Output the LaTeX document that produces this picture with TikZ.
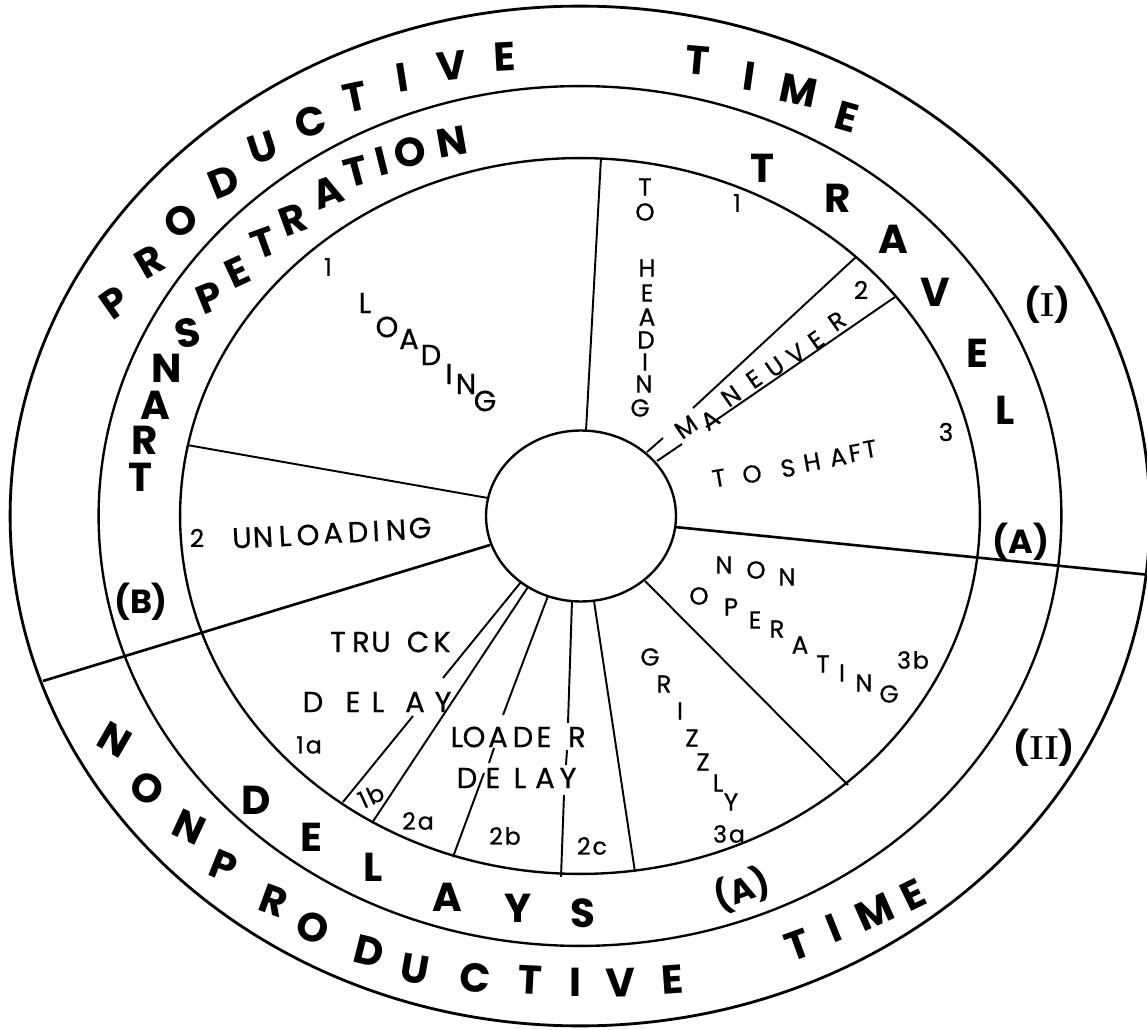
\documentclass[tikz,border=0pt]{standalone}
\usepackage{fontspec}
\newfontfamily\pop{Poppins}
\newfontfamily\popm[FakeBold=0.6]{Poppins}
\newfontfamily\popsp[LetterSpace=8,FakeBold=0.6]{Poppins}
\newcommand\putletters[3]{\foreach \c/\x/\y/\r [count=\i] in {#3} {\node[#1, rotate=\r] (#2\i) at (\x,\y) {\c};}}
\tikzset{
  ringtxt/.style={font=\pop\bfseries\fontsize{23}{23}\selectfont, inner sep=0pt},
  tagtxt/.style={font=\pop\bfseries\fontsize{19}{19}\selectfont, inner sep=0pt},
  intxt/.style={font=\popm\fontsize{16.5}{16.5}\selectfont, inner sep=0pt},
  smtxt/.style={font=\popm\fontsize{14}{14}\selectfont, inner sep=0pt},
  numtxt/.style={font=\popsp\fontsize{13.5}{13.5}\selectfont, inner sep=0pt},
  rim/.style={line width=1.6pt},
  ringline/.style={line width=1.35pt},
  divline/.style={line width=1.5pt},
  secline/.style={line width=1.1pt},
}
\begin{document}
\begin{tikzpicture}[x=0.02cm, y=-0.02cm]
\useasboundingbox (0,0) rectangle (1147,1030);
\clip (0,0) rectangle (1147,1030);
% rings
\draw[rim] (580,516) ellipse [x radius=11.4cm, y radius=10.2cm];
\draw[ringline] (580,516) ellipse [x radius=9.63cm, y radius=8.6cm];
\draw[ringline] (580,516) ellipse [x radius=8.0cm, y radius=7.16cm];
\draw[ringline] (581,516) ellipse [x radius=1.9cm, y radius=1.71cm];
% main dividers
\draw[divline] (43,681) -- (490,545);
\draw[divline] (675,527) -- (1160,576);
% sector lines
\draw[secline] (601,158) -- (586,431);
\draw[secline] (187,445) -- (488,498);
\draw[secline] (856,257) -- (693,408) (663,438) -- (647,452);
\draw[secline] (895,297) -- (706,427) (682,444) -- (657,461);
\draw[secline] (521,582) -- (443,678) (413,716) -- (343,802);
\draw[secline] (528,587) -- (372,823);
\draw[secline] (548,596) -- (503,715) (494,748) -- (489,763) (484,773) -- (453,857);
\draw[secline] (572,601) -- (568,723) (567,750) -- (566,765) (564,795) -- (561,877);
\draw[secline] (594,601) -- (635,872);
\draw[secline] (645,581) -- (848,785);
% outer ring texts
\putletters{ringtxt}{pt}{P/115/303/35, R/150/262/30, O/181/221/25, D/224/182/22, U/263/148/18, C/311/122/15, T/355/97/12, I/402/78/9, V/452/66/6, E/505/57/3}
\putletters{ringtxt}{tm}{T/698/60/-5, I/749/76/-8, M/799/90/-12, E/847/117/-16}
\putletters{ringtxt}{np}{N/115/740/-30, O/147/788/-28, N/189/827/-25, P/224/866/-22, R/274/901/-20, O/313/928/-17, D/369/951/-14, U/415/969/-10, C/475/978/-6, T/530/980/-3, I/575/982/0, V/621/983/2, E/672/980/4}
\putletters{ringtxt}{tb}{T/798/945/20, I/834/928/22, M/875/912/24, E/913/895/26}
% second ring texts
\putletters{ringtxt}{tr}{T/140/477/0, R/145/440/0, A/155/405/0, N/167/368/0, S/188/333/12, P/210/298/22, E/237/272/25, T/264/243/20, R/293/220/20, A/328/192/20, T/356/172/15, I/382/161/14, O/410/152/12, N/452/142/10}
\putletters{ringtxt}{tv}{T/762/168/0, R/838/198/0, A/893/239/0, V/935/292/0, E/977/353/0, L/1005/410/0}
\putletters{ringtxt}{dl}{D/256/800/0, E/311/837/0, L/373/867/0, A/447/897/0, Y/518/908/0, S/583/913/0}
\node[tagtxt] (tI) at (1047,305) {(\textrm{I})};
\node[tagtxt] (tII) at (1044,748) {(\textrm{II})};
\node[tagtxt] (tAr) at (1021,542) {(A)};
\node[tagtxt] (tB) at (141,602) {(B)};
\node[tagtxt, rotate=20] (tAb) at (742,890) {(A)};
% inner texts
\putletters{intxt}{ld}{L/365/303/0, O/387/327/0, A/409/339/0, D/431/355/0, I/449/374/0, N/466/384/0, G/485/401/0}
\putletters{smtxt}{th}{T/645/187/0, O/645/212/0, H/647/268/0, E/647/293/0, A/647/317/0, D/646/340/0, I/645/362/0, N/644/384/0, G/640/408/0}
\putletters{smtxt}{mn}{M/686/427/35, A/710/420/35, N/731/396/35, E/754/379/35, U/775/367/35, V/796/354/35, E/816/340/35, R/837/321/35}
\putletters{smtxt}{sh}{T/719/478/10, O/752/474/10, S/788/468/10, H/812/462/10, A/838/457/10, F/855/453/10, T/870/449/10}
\putletters{intxt}{ul}{U/242/538/3, N/263/537/3, L/285/536/3, O/308/535/3, A/333/533/3, D/358/532/3, I/376/531/3, N/396/530/3, G/420/528/3}
\putletters{intxt}{tk}{T/338/642/0, R/361/642/0, U/381/642/0, C/418/642/0, K/442/642/0}
\putletters{intxt}{td}{D/313/702/0, E/353/702/0, L/378/702/0, A/415/702/0, Y/443/702/0}
\putletters{intxt}{lo}{L/457/737/0, O/474/737/0, A/498/737/0, D/523/737/0, E/544/737/0, R/577/737/0}
\putletters{intxt}{lde}{D/467/778/0, E/493/778/0, L/520/778/0, A/545/778/0, Y/568/778/0}
\putletters{smtxt}{no}{N/724/565/0, O/756/570/0, N/787/577/0}
\putletters{smtxt}{op}{O/699/596/0, P/731/607/0, E/755/620/0, R/777/629/0, A/800/645/0, T/823/664/0, I/842/673/0, N/864/683/0, G/889/694/0}
\putletters{smtxt}{gr}{G/650/657/0, R/664/684/0, I/680/711/0, Z/692/738/0, Z/703/762/0, L/718/783/0, Y/731/802/0}
% numbers
\node[smtxt] (n1) at (328,267) {1};
\node[smtxt] (n2u) at (197,538) {2};
\node[smtxt] (n1h) at (737,203) {1};
\node[smtxt] (n2m) at (861,290) {2};
\node[smtxt] (n3s) at (946,432) {3};
\node[numtxt] (n1a) at (309,745) {1a};
\node[numtxt, rotate=25] (n1b) at (371,796) {1b};
\node[numtxt] (n2a) at (418,821) {2a};
\node[numtxt] (n2b) at (505,836) {2b};
\node[numtxt] (n2c) at (592,846) {2c};
\node[numtxt] (n3a) at (729,834) {3a};
\node[numtxt] (n3b) at (913,660) {3b};
\end{tikzpicture}
\end{document}
